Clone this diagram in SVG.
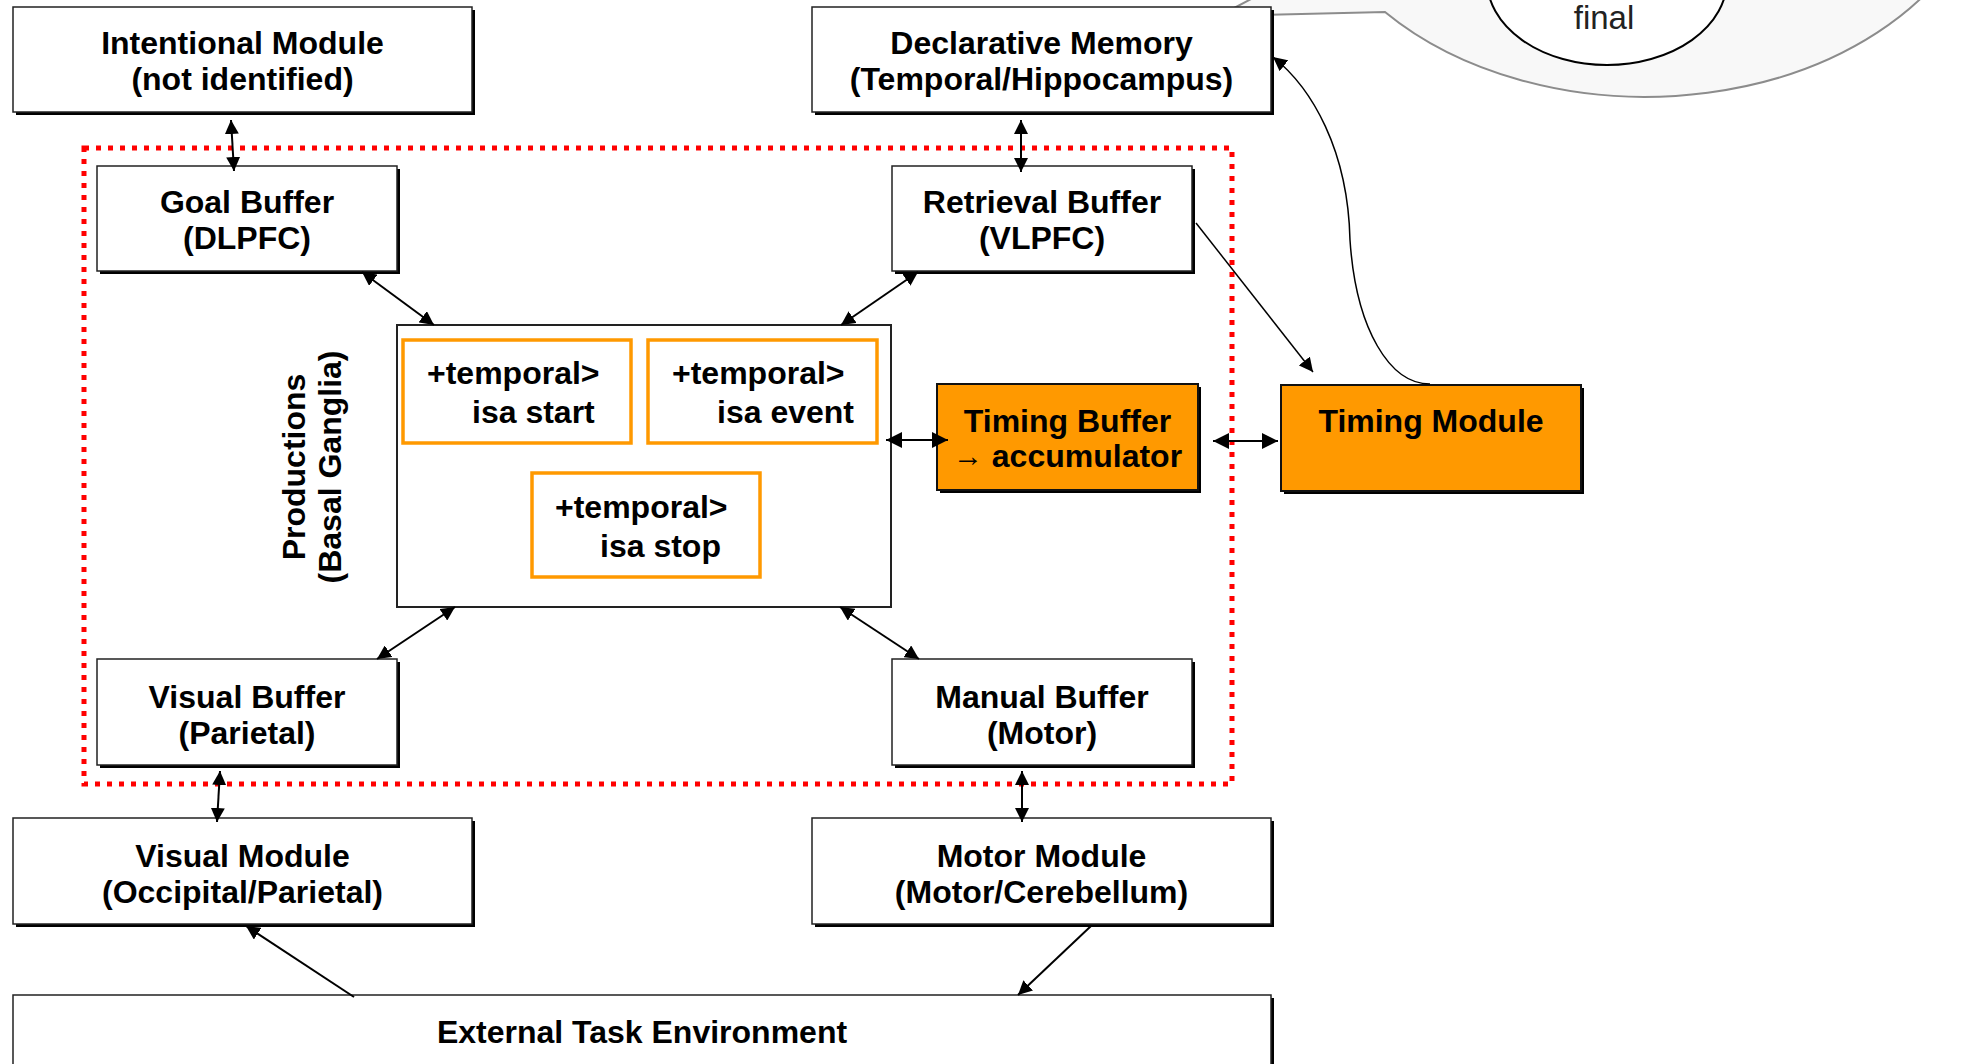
<svg xmlns="http://www.w3.org/2000/svg" width="1968" height="1064" viewBox="0 0 1968 1064">
<defs>
<style>
.sh{fill:#000}
.bx{fill:#fff;stroke:#222;stroke-width:1.5}
.or{fill:#FF9900;stroke:#111;stroke-width:2}
.ob{fill:#fff;stroke:#FF9900;stroke-width:3.5}
.pr{fill:#fff;stroke:#222;stroke-width:2}
.t{font-family:"Liberation Sans",Arial,sans-serif;font-weight:bold;font-size:32px;fill:#000;text-anchor:middle}
.ts{font-family:"Liberation Sans",Arial,sans-serif;font-weight:bold;font-size:32px;fill:#000}
.c{fill:none;stroke:#000;stroke-width:2}
.c1{fill:none;stroke:#000;stroke-width:1.5}
.red{fill:none;stroke:#FF0000;stroke-width:5;stroke-dasharray:5 7}
</style>
<marker id="ah" viewBox="0 0 14 14" markerWidth="14" markerHeight="14" markerUnits="userSpaceOnUse" refX="14" refY="7" orient="auto-start-reverse">
<path d="M0,0 L14,7 L0,14 z" fill="#000"/>
</marker>
<marker id="ahb" viewBox="0 0 16 16" markerWidth="16" markerHeight="16" markerUnits="userSpaceOnUse" refX="16" refY="8" orient="auto-start-reverse">
<path d="M0,0 L16,8 L0,16 z" fill="#000"/>
</marker>
</defs>
<rect width="1968" height="1064" fill="#fff"/>

<g id="callout">
<path d="M1287 -20 L1219 16 L1385 12 A345 247 0 0 0 1969 -65 L1969 -300 L1287 -300 Z" fill="#F8F8F8" stroke="#8C8C8C" stroke-width="2"/>
<ellipse cx="1607" cy="-20" rx="120" ry="85" fill="#fff" stroke="#000" stroke-width="2"/>
<text x="1604" y="29" font-family="'Liberation Sans',Arial,sans-serif" font-size="33" fill="#222" text-anchor="middle">final</text>
</g>

<g id="basal-ganglia-region">
<rect class="red" x="84" y="148" width="1148" height="636"/>
</g>

<g id="intentional-module">
<rect class="sh" x="16" y="10" width="459" height="105"/>
<rect class="bx" x="13" y="7" width="459" height="105"/>
<text class="t" x="242.5" y="54">Intentional Module</text>
<text class="t" x="242.5" y="90">(not identified)</text>
</g>

<g id="declarative-memory">
<rect class="sh" x="815" y="10" width="459" height="105"/>
<rect class="bx" x="812" y="7" width="459" height="105"/>
<text class="t" x="1041.5" y="54">Declarative Memory</text>
<text class="t" x="1041.5" y="90">(Temporal/Hippocampus)</text>
</g>

<g id="goal-buffer">
<rect class="sh" x="100" y="169" width="300" height="105"/>
<rect class="bx" x="97" y="166" width="300" height="105"/>
<text class="t" x="247" y="213">Goal Buffer</text>
<text class="t" x="247" y="249">(DLPFC)</text>
</g>

<g id="retrieval-buffer">
<rect class="sh" x="895" y="169" width="300" height="105"/>
<rect class="bx" x="892" y="166" width="300" height="105"/>
<text class="t" x="1042" y="213">Retrieval Buffer</text>
<text class="t" x="1042" y="249">(VLPFC)</text>
</g>

<g id="productions">
<rect class="pr" x="397" y="325" width="494" height="282"/>
<text class="t" transform="translate(305,467) rotate(-90)">Productions</text>
<text class="t" transform="translate(341,467) rotate(-90)">(Basal Ganglia)</text>
</g>

<g id="rule-start">
<rect class="ob" x="403" y="340" width="228" height="103"/>
<text class="ts" x="427" y="384">+temporal&gt;</text>
<text class="ts" x="472" y="423">isa start</text>
</g>

<g id="rule-event">
<rect class="ob" x="648" y="340" width="229" height="103"/>
<text class="ts" x="672" y="384">+temporal&gt;</text>
<text class="ts" x="717" y="423">isa event</text>
</g>

<g id="rule-stop">
<rect class="ob" x="532" y="473" width="228" height="104"/>
<text class="ts" x="555" y="518">+temporal&gt;</text>
<text class="ts" x="600" y="557">isa stop</text>
</g>

<g id="timing-buffer">
<rect class="sh" x="940" y="387" width="261" height="106"/>
<rect class="or" x="937" y="384" width="261" height="106"/>
<text class="t" x="1067.5" y="432">Timing Buffer</text>
<text class="t" x="1067.5" y="467"><tspan font-size="30" dy="-1">→</tspan><tspan dy="1"> accumulator</tspan></text>
</g>

<g id="timing-module">
<rect class="sh" x="1284" y="388" width="300" height="106"/>
<rect class="or" x="1281" y="385" width="300" height="106"/>
<text class="t" x="1431" y="432">Timing Module</text>
</g>

<g id="visual-buffer">
<rect class="sh" x="100" y="662" width="300" height="106"/>
<rect class="bx" x="97" y="659" width="300" height="106"/>
<text class="t" x="247" y="708">Visual Buffer</text>
<text class="t" x="247" y="744">(Parietal)</text>
</g>

<g id="manual-buffer">
<rect class="sh" x="895" y="662" width="300" height="106"/>
<rect class="bx" x="892" y="659" width="300" height="106"/>
<text class="t" x="1042" y="708">Manual Buffer</text>
<text class="t" x="1042" y="744">(Motor)</text>
</g>

<g id="visual-module">
<rect class="sh" x="16" y="821" width="459" height="106"/>
<rect class="bx" x="13" y="818" width="459" height="106"/>
<text class="t" x="242.5" y="867">Visual Module</text>
<text class="t" x="242.5" y="903">(Occipital/Parietal)</text>
</g>

<g id="motor-module">
<rect class="sh" x="815" y="821" width="459" height="106"/>
<rect class="bx" x="812" y="818" width="459" height="106"/>
<text class="t" x="1041.5" y="867">Motor Module</text>
<text class="t" x="1041.5" y="903">(Motor/Cerebellum)</text>
</g>

<g id="external-task-environment">
<rect class="sh" x="16" y="998" width="1258" height="100"/>
<rect class="bx" x="13" y="995" width="1258" height="100"/>
<text class="t" x="642" y="1043">External Task Environment</text>
</g>

<g id="connectors">
<line class="c" x1="231" y1="120" x2="234" y2="171" marker-start="url(#ah)" marker-end="url(#ah)"/>
<line class="c" x1="1021" y1="120" x2="1021" y2="172" marker-start="url(#ah)" marker-end="url(#ah)"/>
<line class="c" x1="362" y1="272" x2="434" y2="325" marker-start="url(#ah)" marker-end="url(#ah)"/>
<line class="c" x1="918" y1="272" x2="841" y2="325" marker-start="url(#ah)" marker-end="url(#ah)"/>
<line class="c" x1="455" y1="607" x2="377" y2="659" marker-start="url(#ah)" marker-end="url(#ah)"/>
<line class="c" x1="840" y1="607" x2="919" y2="659" marker-start="url(#ah)" marker-end="url(#ah)"/>
<line class="c" x1="220" y1="771" x2="217" y2="822" marker-start="url(#ah)" marker-end="url(#ah)"/>
<line class="c" x1="1022" y1="771" x2="1022" y2="822" marker-start="url(#ah)" marker-end="url(#ah)"/>
<line class="c" x1="354" y1="997" x2="246" y2="926" marker-end="url(#ah)"/>
<line class="c" x1="1091" y1="926" x2="1018" y2="995" marker-end="url(#ah)"/>
<line class="c" stroke-width="2.5" x1="886" y1="440" x2="948" y2="440" marker-start="url(#ahb)" marker-end="url(#ahb)"/>
<line class="c" stroke-width="2.5" x1="1213" y1="441" x2="1278" y2="441" marker-start="url(#ahb)" marker-end="url(#ahb)"/>
<line class="c1" x1="1196" y1="223" x2="1313" y2="372" marker-end="url(#ah)"/>
<path class="c1" d="M1430 384 C1390 384 1356 330 1350 240 C1348 150 1312 88 1273 57" marker-end="url(#ah)"/>
</g>
</svg>
